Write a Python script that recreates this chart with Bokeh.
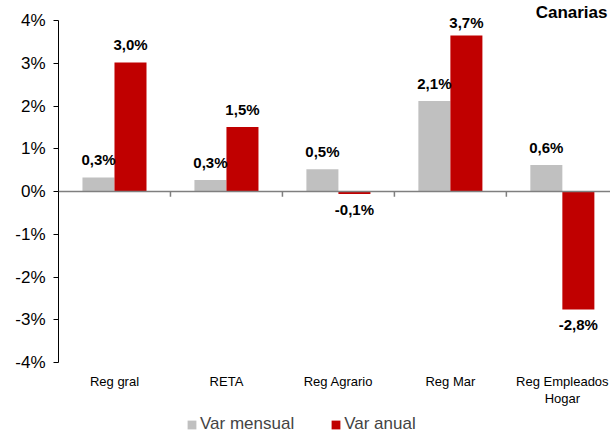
from bokeh.plotting import figure
from bokeh.models import Range1d, FixedTicker, Legend, LegendItem, Span, Label
from bokeh.transform import dodge
from bokeh.core.properties import value
from bokeh.embed import file_html
from bokeh.resources import INLINE

categories = ["Reg gral", "RETA", "Reg Agrario", "Reg Mar", "Reg Empleados\nHogar"]
var_mensual = [0.33, 0.27, 0.52, 2.12, 0.62]
var_anual = [3.02, 1.51, -0.06, 3.65, -2.76]
labels_mensual = ["0,3%", "0,3%", "0,5%", "2,1%", "0,6%"]
labels_anual = ["3,0%", "1,5%", "-0,1%", "3,7%", "-2,8%"]
yticks = [-4, -3, -2, -1, 0, 1, 2, 3, 4]
ytick_labels = ["-4%", "-3%", "-2%", "-1%", "0%", "1%", "2%", "3%", "4%"]
title_text = "Canarias"

GRAY = "#C0C0C0"
RED = "#C00000"
FONT = "Liberation Sans"
BW = 0.286
XMAX = 4.43
YMIN, YMAX = -4, 4
# frame covers whole canvas height; extra room (in value units) above/below the axis
PAD_TOP = 0.468
PAD_BOT = 1.731

idx = list(range(len(categories)))

p = figure(width=610, height=436, x_range=Range1d(-0.5, XMAX),
           y_range=Range1d(YMIN - PAD_BOT, YMAX + PAD_TOP),
           output_backend="svg", toolbar_location=None,
           min_border_left=58, min_border_right=0, min_border_top=0, min_border_bottom=0)
p.outline_line_color = None
p.xgrid.visible = False
p.ygrid.visible = False
p.xaxis.visible = False
p.background_fill_color = "white"
p.border_fill_color = "white"

src = dict(x=idx, m=var_mensual, a=var_anual)
r1 = p.vbar(x=dodge("x", -BW / 2, range=p.x_range), top="m", bottom=0, width=BW,
            source=src, fill_color=GRAY, line_color=None)
r2 = p.vbar(x=dodge("x", BW / 2, range=p.x_range), top="a", bottom=0, width=BW,
            source=src, fill_color=RED, line_color=None)

# zero line and category separators
p.add_layout(Span(location=0, dimension="width", line_color="#7f7f7f", line_width=1.5))
bounds = [i + 0.5 for i in idx[:-1]]
p.segment(x0=bounds, y0=[0] * len(bounds), x1=bounds, y1=[-0.12] * len(bounds),
          line_color="#7f7f7f", line_width=1.5)

# data labels
for vals, labs, off in ((var_mensual, labels_mensual, -BW / 2), (var_anual, labels_anual, BW / 2)):
    px = [i + off for i, v in zip(idx, vals) if v >= 0]
    py = [v for v in vals if v >= 0]
    pt = [l for l, v in zip(labs, vals) if v >= 0]
    po = [-9 if v < 3.5 else -4 for v in py]
    nx = [i + off for i, v in zip(idx, vals) if v < 0]
    ny = [v for v in vals if v < 0]
    nt = [l for l, v in zip(labs, vals) if v < 0]
    p.text(x=px, y=py, text=pt, text_align="center", text_baseline="bottom", y_offset=po,
           text_font=value(FONT), text_font_style="bold", text_font_size="15px",
           text_color="black")
    if nx:
        p.text(x=nx, y=ny, text=nt, text_align="center", text_baseline="top", y_offset=7,
               text_font=value(FONT), text_font_style="bold", text_font_size="15px",
               text_color="black")

# category labels under the axis
p.text(x=idx, y=[YMIN] * len(idx), text=categories, text_align="center", text_baseline="top",
       y_offset=11, text_font=value(FONT), text_font_size="13px", text_color="black",
       text_line_height=1.15)

# y axis
ya = p.yaxis[0]
ya.ticker = FixedTicker(ticks=yticks)
ya.bounds = (YMIN, YMAX)
ya.major_label_overrides = {t: l for t, l in zip(yticks, ytick_labels)}
ya.axis_line_color = "black"
ya.axis_line_width = 1
ya.major_tick_line_color = "black"
ya.major_tick_out = 5
ya.major_tick_in = 0
ya.minor_tick_line_color = None
ya.major_label_text_font = FONT
ya.major_label_text_font_size = "17px"
ya.major_label_text_color = "black"
ya.major_label_standoff = 8

legend = Legend(items=[LegendItem(label="Var mensual", renderers=[r1]),
                       LegendItem(label="Var anual", renderers=[r2])],
                orientation="horizontal", location=(128, 2),
                border_line_color=None, background_fill_alpha=0,
                label_text_font=FONT, label_text_font_size="17px",
                glyph_width=11, glyph_height=11, spacing=36, padding=0, margin=0,
                label_standoff=3)
p.add_layout(legend)

p.add_layout(Label(x=XMAX, y=YMAX, text=title_text, text_align="right", text_baseline="middle",
                   x_offset=-3, y_offset=8, text_font=FONT, text_font_style="bold",
                   text_font_size="17px", text_color="black"))

open("out.html", "w").write(file_html(p, INLINE))
